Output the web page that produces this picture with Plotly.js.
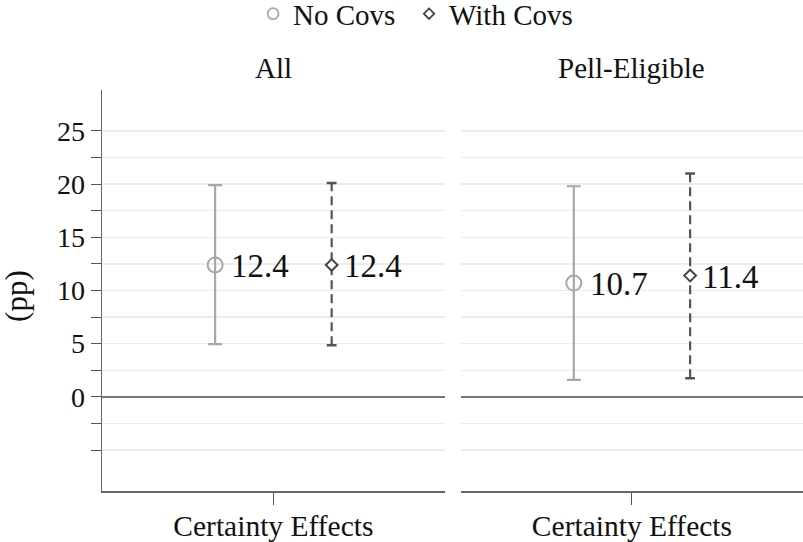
<!DOCTYPE html>
<html>
<head>
<meta charset="utf-8">
<script src="https://cdn.plot.ly/plotly-3.0.1.min.js"></script>
<style>html,body{margin:0;padding:0;background:#fff;}#chart{width:803px;height:542px;}</style>
</head>
<body>
<div id="chart"></div>
<script>
// ---- data ----
const panels = ['All', 'Pell-Eligible'];
const category = ['Certainty Effects'];
const seriesNames = ['No Covs', 'With Covs'];
const noCovEst = [12.4, 10.7];
const noCovLo = [4.95, 1.6];
const noCovHi = [19.9, 19.8];
const withCovEst = [12.4, 11.4];
const withCovLo = [4.85, 1.75];
const withCovHi = [20.1, 21.0];
const yTickVals = [-5, -2.5, 0, 2.5, 5, 7.5, 10, 12.5, 15, 17.5, 20, 22.5, 25];
const yTickText = ['', '', '0', '', '5', '', '10', '', '15', '', '20', '', '25'];
const yTitle = '(pp)';

// ---- style constants ----
const FONT = 'Liberation Serif, Times New Roman, serif';
const OFFSET = 0.34;
const GRAY = '#a8a8a8';
const DARK = '#555555';

const traces = [];
const annotations = [];
// legend-only entries (smaller symbols, as in the reference legend)
traces.push({type: 'scatter', mode: 'markers', x: [null], y: [null], name: seriesNames[0], legendwidth: 111,
  marker: {symbol: 'circle', size: 11, color: 'rgba(255,255,255,0)', line: {color: GRAY, width: 1.8}}});
traces.push({type: 'scatter', mode: 'markers', x: [null], y: [null], name: seriesNames[1], legendwidth: 130,
  marker: {symbol: 'diamond', size: 8, color: '#ffffff', line: {color: '#444444', width: 1.8}}});

panels.forEach((p, i) => {
  const xa = i === 0 ? 'x' : 'x2';
  const ya = i === 0 ? 'y' : 'y2';
  const xNo = -OFFSET, xW = OFFSET;
  traces.push({
    type: 'scatter', mode: 'markers', xaxis: xa, yaxis: ya,
    x: [xNo], y: [noCovEst[i]], showlegend: false,
    marker: {symbol: 'circle', size: 15, color: 'rgba(255,255,255,0)', line: {color: GRAY, width: 2}},
    error_y: {type: 'data', symmetric: false,
      array: [noCovHi[i] - noCovEst[i]], arrayminus: [noCovEst[i] - noCovLo[i]],
      color: GRAY, thickness: 2.2, width: 7},
    hoverinfo: 'skip'
  });
  traces.push({
    type: 'scatter', mode: 'lines', xaxis: xa, yaxis: ya,
    x: [xW, xW], y: [withCovLo[i], withCovHi[i]],
    showlegend: false, line: {color: DARK, width: 2.2, dash: '9px,5px'}, hoverinfo: 'skip'
  });
  traces.push({
    type: 'scatter', mode: 'markers', xaxis: xa, yaxis: ya,
    x: [xW, xW], y: [withCovLo[i], withCovHi[i]],
    showlegend: false, marker: {symbol: 'line-ew', size: 7, line: {color: DARK, width: 2.5}}, hoverinfo: 'skip'
  });
  traces.push({
    type: 'scatter', mode: 'markers', xaxis: xa, yaxis: ya,
    x: [xW], y: [withCovEst[i]], showlegend: false,
    marker: {symbol: 'diamond', size: 9, color: '#ffffff', line: {color: '#444444', width: 2}},
    hoverinfo: 'skip'
  });
  annotations.push({xref: xa, yref: ya, x: xNo, y: noCovEst[i], text: noCovEst[i].toFixed(1),
    showarrow: false, xanchor: 'left', yanchor: 'middle', xshift: 14, yshift: -1,
    font: {family: FONT, size: 33, color: '#111'}});
  annotations.push({xref: xa, yref: ya, x: xW, y: withCovEst[i], text: withCovEst[i].toFixed(1),
    showarrow: false, xanchor: 'left', yanchor: 'middle', xshift: 10, yshift: -1,
    font: {family: FONT, size: 33, color: '#111'}});
  annotations.push({xref: xa + ' domain', yref: 'paper', x: 0.5, y: 1, yanchor: 'bottom', yshift: 4,
    text: p, showarrow: false, font: {family: FONT, size: 29, color: '#111'}});
});
annotations.push({xref: 'paper', yref: 'paper', x: -0.123, y: 0.486, xanchor: 'center', yanchor: 'middle',
  textangle: -90, text: yTitle, showarrow: false, font: {family: FONT, size: 31, color: '#111'}});

const xBase = {
  range: [-1, 1], tickvals: [0], ticktext: category, ticks: 'outside', ticklen: 12, tickwidth: 1,
  tickcolor: '#555', showline: true, linecolor: '#666', linewidth: 1.5, showgrid: false, zeroline: false,
  tickfont: {family: FONT, size: 29.5, color: '#111'}, ticklabelstandoff: -4, fixedrange: true
};
const layout = {
  width: 803, height: 542,
  margin: {l: 102, r: 0, t: 90, b: 51, autoexpand: false},
  paper_bgcolor: '#fff', plot_bgcolor: '#fff',
  font: {family: FONT, color: '#111'},
  showlegend: true,
  legend: {orientation: 'h', x: 0.2155, xanchor: 'left', y: 1.19, yanchor: 'middle',
    font: {family: FONT, size: 29, color: '#111'}, tracegroupgap: 0},
  xaxis: Object.assign({}, xBase, {domain: [0, 0.489], anchor: 'y'}),
  xaxis2: Object.assign({}, xBase, {domain: [0.512, 1], anchor: 'y2'}),
  yaxis: {
    range: [-8.85, 28.85], tickmode: 'array', tickvals: yTickVals, ticktext: yTickText,
    ticks: 'outside', ticklen: 10, tickwidth: 1, tickcolor: '#555',
    showline: true, linecolor: '#666', linewidth: 1.5,
    showgrid: true, gridcolor: '#ececec', gridwidth: 1.3,
    zeroline: true, zerolinecolor: '#777', zerolinewidth: 2.2,
    tickfont: {family: FONT, size: 28, color: '#111'},
    anchor: 'x', fixedrange: true
  },
  yaxis2: {
    matches: 'y', range: [-8.85, 28.85], tickmode: 'array', tickvals: yTickVals, showticklabels: false,
    ticks: '', showline: false, showgrid: true, gridcolor: '#ececec', gridwidth: 1.3,
    zeroline: true, zerolinecolor: '#777', zerolinewidth: 2.2, anchor: 'x2', fixedrange: true
  },
  annotations: annotations
};
Plotly.newPlot('chart', traces, layout, {displayModeBar: false, staticPlot: true});
</script>
</body>
</html>
